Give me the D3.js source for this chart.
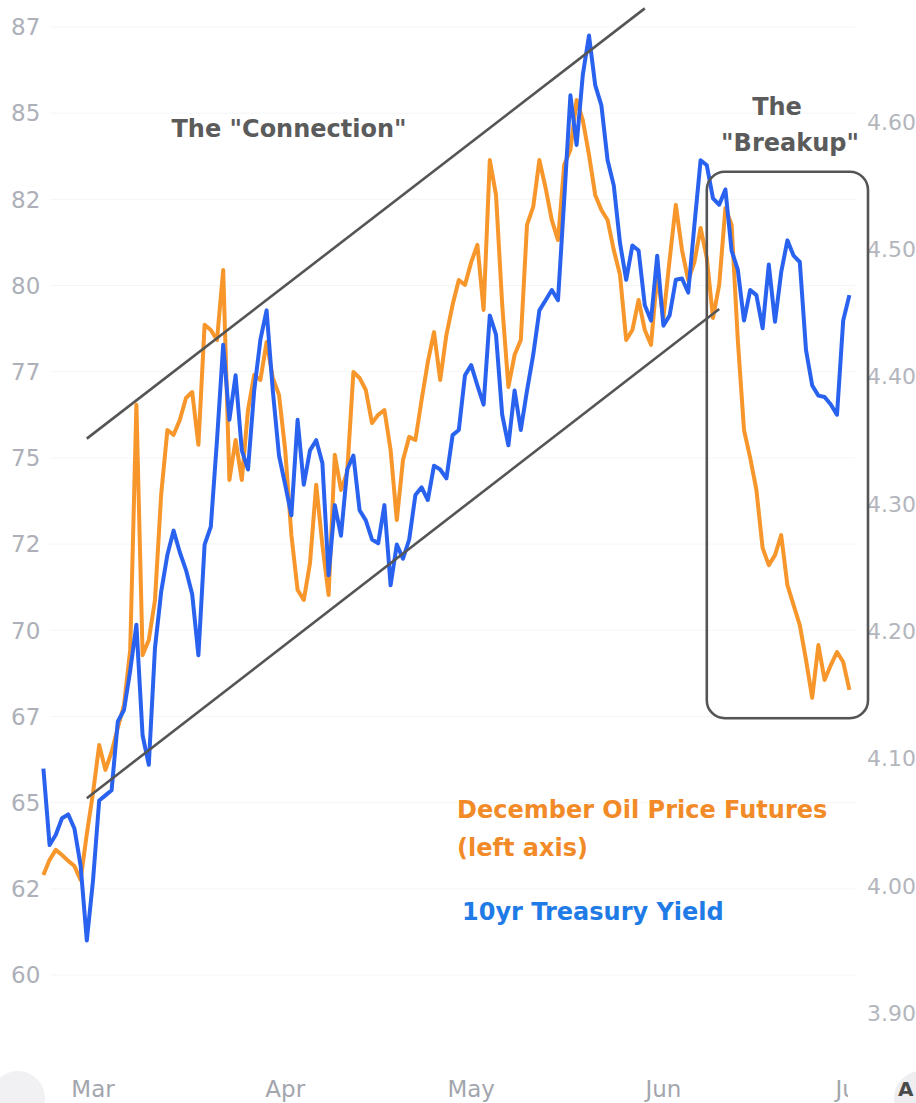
<!DOCTYPE html>
<html lang="en">
<head>
<meta charset="UTF-8">
<title>Oil Futures vs 10yr Yield</title>
<script src="https://d3js.org/d3.v7.min.js"></script>
<style>
  body { margin: 0; background: #fff; overflow: hidden; }
  svg { display: block; font-family: "DejaVu Sans", Verdana, sans-serif; }
</style>
</head>
<body>
<svg id="main" width="916" height="1103"></svg>
<script>
// daily points starting at this date
const startDate = "2023-02-21";

// December oil futures (left axis)
const oil = [62.90, 63.34, 63.63, 63.48, 63.31, 63.16, 62.76, 64.09, 65.28, 66.67,
  65.95, 66.47, 67.17, 67.83, 69.43, 76.54, 69.28, 69.72, 70.88, 73.95,
  75.81, 75.67, 76.10, 76.74, 76.91, 75.38, 78.86, 78.71, 78.42, 80.45,
  74.36, 75.52, 74.36, 76.39, 77.41, 77.26, 78.36, 77.32, 76.83, 75.23,
  72.76, 71.17, 70.88, 71.95, 74.22, 72.47, 71.02, 75.09, 74.07, 74.59,
  77.49, 77.32, 76.97, 76.01, 76.25, 76.39, 75.23, 73.20, 74.94, 75.61,
  75.52, 76.68, 77.78, 78.65, 77.26, 78.57, 79.44, 80.16, 80.02, 80.68,
  81.18, 79.29, 83.64, 82.63, 79.44, 77.06, 77.99, 78.42, 81.76, 82.28,
  83.64, 82.83, 81.90, 81.32, 83.50, 83.93, 85.38, 84.80, 83.79, 82.63,
  82.19, 81.90, 81.03, 80.31, 78.42, 78.71, 79.58, 78.71, 78.28, 80.31,
  79.06, 80.74, 82.34, 81.03, 80.16, 80.68, 81.67, 80.80, 79.06, 80.02,
  82.25, 81.76, 78.42, 75.81, 75.00, 74.07, 72.39, 71.89, 72.18, 72.76,
  71.31, 70.73, 70.15, 69.14, 68.04, 69.57, 68.56, 68.99, 69.37, 69.08,
  68.27];

// 10yr treasury yield (right axis)
const yield10 = [4.092, 4.032, 4.040, 4.053, 4.056, 4.045, 4.016, 3.957, 4.004, 4.067,
  4.071, 4.075, 4.129, 4.138, 4.169, 4.205, 4.118, 4.095, 4.187, 4.231,
  4.260, 4.279, 4.262, 4.248, 4.229, 4.181, 4.268, 4.282, 4.350, 4.425,
  4.366, 4.401, 4.342, 4.327, 4.389, 4.429, 4.452, 4.389, 4.338, 4.315,
  4.291, 4.366, 4.315, 4.342, 4.350, 4.332, 4.244, 4.299, 4.275, 4.327,
  4.338, 4.295, 4.287, 4.272, 4.269, 4.299, 4.236, 4.268, 4.257, 4.272,
  4.307, 4.313, 4.303, 4.330, 4.327, 4.320, 4.354, 4.358, 4.401, 4.409,
  4.393, 4.378, 4.448, 4.433, 4.370, 4.346, 4.389, 4.358, 4.389, 4.417,
  4.452, 4.460, 4.468, 4.460, 4.539, 4.621, 4.582, 4.637, 4.668, 4.629,
  4.613, 4.570, 4.550, 4.505, 4.476, 4.503, 4.499, 4.456, 4.444, 4.495,
  4.440, 4.448, 4.476, 4.477, 4.466, 4.519, 4.570, 4.566, 4.540, 4.535,
  4.547, 4.499, 4.484, 4.444, 4.468, 4.464, 4.438, 4.488, 4.443, 4.482,
  4.507, 4.495, 4.490, 4.421, 4.393, 4.385, 4.384, 4.378, 4.370, 4.444,
  4.464];

const leftTicks = [60, 62.5, 65, 67.5, 70, 72.5, 75, 77.5, 80, 82.5, 85, 87.5];
const leftTickLabels = ["60", "62", "65", "67", "70", "72", "75", "77", "80", "82", "85", "87"];
const rightTicks = [3.9, 4.0, 4.1, 4.2, 4.3, 4.4, 4.5, 4.6];
const monthTicks = ["2023-03-01", "2023-04-01", "2023-05-01", "2023-06-01", "2023-07-01"];
const monthLabels = ["Mar", "Apr", "May", "Jun", "Jul"];

// hand drawn annotations, in chart units (date, left axis value)
const channelUpper = [["2023-02-28", 75.56], ["2023-05-29", 88.04]];
const channelLower = [["2023-02-28", 65.13], ["2023-06-10", 79.32]];
const breakupBox = { from: "2023-06-08", to: "2023-07-04", top: 83.3, bottom: 67.45 };

const parse = d3.utcParse("%Y-%m-%d");
const start = parse(startDate);
const dates = oil.map((d, i) => d3.utcDay.offset(start, i));

const x = d3.scaleUtc()
    .domain([parse("2023-03-01"), parse("2023-07-01")])
    .range([93, 849.4]);
const yL = d3.scaleLinear().domain([60, 87.5]).range([975, 27]);
const yR = d3.scaleLinear().domain([3.9, 4.6]).range([1013, 122]);

const svg = d3.select("svg#main");

// faint grid
svg.append("g").selectAll("line")
    .data(leftTicks)
    .enter().append("line")
    .attr("x1", 50).attr("x2", 855)
    .attr("y1", d => yL(d)).attr("y2", d => yL(d))
    .attr("stroke", "#f4f5f7").attr("stroke-width", 1);

// left axis labels
svg.append("g").selectAll("text")
    .data(leftTicks)
    .enter().append("text")
    .attr("x", 11)
    .attr("y", d => yL(d))
    .attr("dy", "0.36em")
    .attr("font-size", 23)
    .attr("fill", "#adb0b8")
    .text((d, i) => leftTickLabels[i]);

// right axis labels
svg.append("g").selectAll("text")
    .data(rightTicks)
    .enter().append("text")
    .attr("x", 867)
    .attr("y", d => yR(d))
    .attr("dy", "0.36em")
    .attr("font-size", 22)
    .attr("fill", "#b3b6bd")
    .text(d => d3.format(".2f")(d));

// bottom: scroll buttons + months
svg.append("circle").attr("cx", 18).attr("cy", 1098).attr("r", 27).attr("fill", "#f1f1f3");
svg.append("circle").attr("cx", 921).attr("cy", 1098).attr("r", 27).attr("fill", "#eeeef0");
svg.append("text").attr("x", 898).attr("y", 1096).attr("font-size", 20)
    .attr("font-weight", "bold").attr("fill", "#4a4a4a").text("A");

svg.append("clipPath").attr("id", "monthClip")
    .append("rect").attr("x", 0).attr("y", 1040).attr("width", 848).attr("height", 70);
svg.append("g").attr("clip-path", "url(#monthClip)")
    .selectAll("text")
    .data(monthTicks)
    .enter().append("text")
    .attr("x", d => x(parse(d)))
    .attr("y", 1097)
    .attr("text-anchor", "middle")
    .attr("font-size", 23)
    .attr("fill", "#a3a6ad")
    .text((d, i) => monthLabels[i]);

// series
const lineL = d3.line().x((d, i) => x(dates[i])).y(d => yL(d));
const lineR = d3.line().x((d, i) => x(dates[i])).y(d => yR(d));

svg.append("path")
    .attr("d", lineL(oil))
    .attr("fill", "none")
    .attr("stroke", "#f7962b")
    .attr("stroke-width", 4)
    .attr("stroke-linejoin", "round");

svg.append("path")
    .attr("d", lineR(yield10))
    .attr("fill", "none")
    .attr("stroke", "#2a62f0")
    .attr("stroke-width", 4)
    .attr("stroke-linejoin", "round");

// channel lines
const chan = d3.line().x(d => x(parse(d[0]))).y(d => yL(d[1]));
[channelUpper, channelLower].forEach(c => {
    svg.append("path")
        .attr("d", chan(c))
        .attr("stroke", "#555")
        .attr("stroke-width", 2.6)
        .attr("fill", "none");
});

// breakup box
svg.append("rect")
    .attr("x", x(parse(breakupBox.from)))
    .attr("y", yL(breakupBox.top))
    .attr("width", x(parse(breakupBox.to)) - x(parse(breakupBox.from)))
    .attr("height", yL(breakupBox.bottom) - yL(breakupBox.top))
    .attr("rx", 18)
    .attr("fill", "none")
    .attr("stroke", "#555")
    .attr("stroke-width", 2.6);

// annotation text
const note = (t, tx, ty, color, anchor) => svg.append("text")
    .attr("x", tx).attr("y", ty)
    .attr("text-anchor", anchor || "middle")
    .attr("font-size", 24)
    .attr("font-weight", "bold")
    .attr("fill", color)
    .text(t);

note('The "Connection"', 289, 137, "#5b5b5b");
note("The", 777, 115, "#5b5b5b");
note('"Breakup"', 790, 151, "#5b5b5b");
note("December Oil Price Futures", 457, 818, "#f28b27", "start");
note("(left axis)", 457, 856, "#f28b27", "start");
note("10yr Treasury Yield", 462, 920, "#1f7be6", "start");
</script>
</body>
</html>
